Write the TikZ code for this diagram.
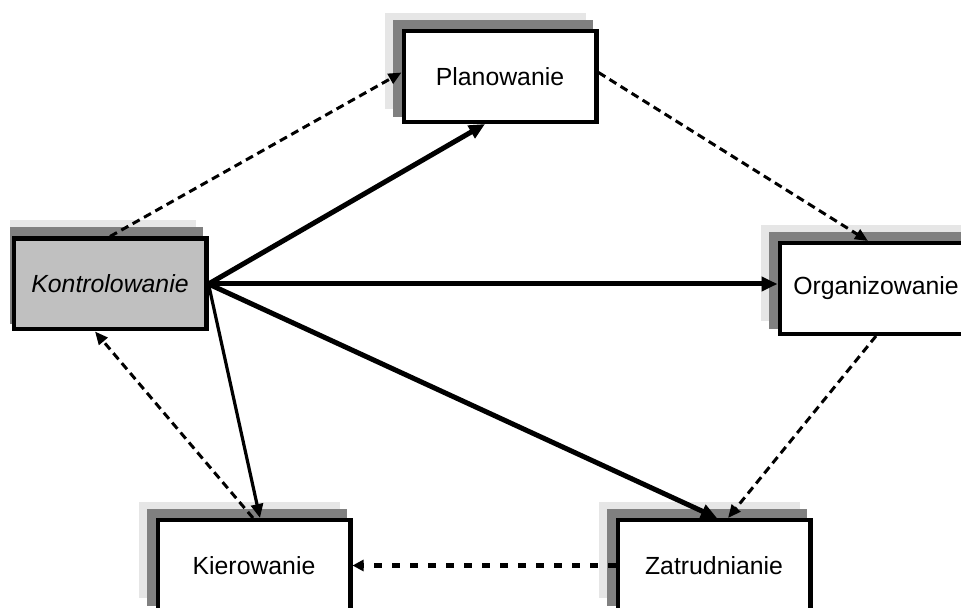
\documentclass[tikz,border=0pt]{standalone}
\usepackage{fontspec}
\setmainfont{Liberation Sans}
\usetikzlibrary{arrows.meta,backgrounds}

\definecolor{shadelight}{HTML}{E6E6E6}
\definecolor{shadedark}{HTML}{808080}
\definecolor{ctrlfill}{HTML}{C0C0C0}

\begin{document}
\begin{tikzpicture}[x=0.5pt,y=-0.5pt,
    task/.style={draw,line width=2.2pt,fill=white,minimum width=96.3pt,minimum height=45.3pt,inner sep=0pt,font=\fontsize{12.4}{15}\selectfont},
    main/.style={-{Triangle[length=8pt,width=7pt]},line width=2.5pt},
    link/.style={-{Triangle[length=6.5pt,width=5.5pt]},line width=1.5pt,dash pattern=on 4pt off 2.5pt}]
    \useasboundingbox (0,0) rectangle (961,608);
    \clip (0,0) rectangle (961,608);

    % Boxes
    \node[task] (plan) at (500,76.5) {Planowanie};
    \node[task,fill=ctrlfill,font=\fontsize{12.4}{15}\selectfont\itshape] (kontr) at (110,284) {Kontrolowanie};
    \node[task] (org) at (876,288.5) {Organizowanie};
    \node[task] (kier) at (254,565.5) {Kierowanie};
    \node[task] (zatr) at (714,565.5) {Zatrudnianie};

    % Shadows behind the boxes
    \begin{scope}[on background layer]
        \clip (10,0) rectangle (961,608);
        \foreach \n in {plan,kontr,org,kier,zatr} {
            \fill[shadelight] ([shift={(-17,-16)}]\n.north west) rectangle ([shift={(-13,-15)}]\n.south east);
            \fill[shadedark] ([shift={(-9,-9)}]\n.north west) rectangle ([shift={(-6,-7)}]\n.south east);
        }
    \end{scope}

    % Solid arrows out of Kontrolowanie
    \draw[main] (kontr.east) -- ([shift={(-15,0)}]plan.south);
    \draw[main] (kontr.east) -- (kontr.east -| org.west);
    \draw[main] (kontr.east) -- ([shift={(3,0)}]zatr.north);
    \draw[main,line width=1.6pt,-{Triangle[length=7pt,width=6pt]}] (kontr.east) -- ([shift={(6,0)}]kier.north);

    % Dashed cycle
    \draw[link] (kontr.north) -- ([shift={(0,-4)}]plan.west);
    \draw[link] ([shift={(0,-4)}]plan.east) -- ([shift={(-8,0)}]org.north);
    \draw[link] (org.south) -- ([shift={(14,0)}]zatr.north);
    \draw[link,line width=2.8pt,dash pattern=on 4pt off 5pt,-{Triangle[length=5.5pt,width=5.5pt]}] (zatr.west) -- (kier.east);
    \draw[link] ([shift={(-1,0)}]kier.north) -- ([shift={(-15,0)}]kontr.south);
\end{tikzpicture}
\end{document}
